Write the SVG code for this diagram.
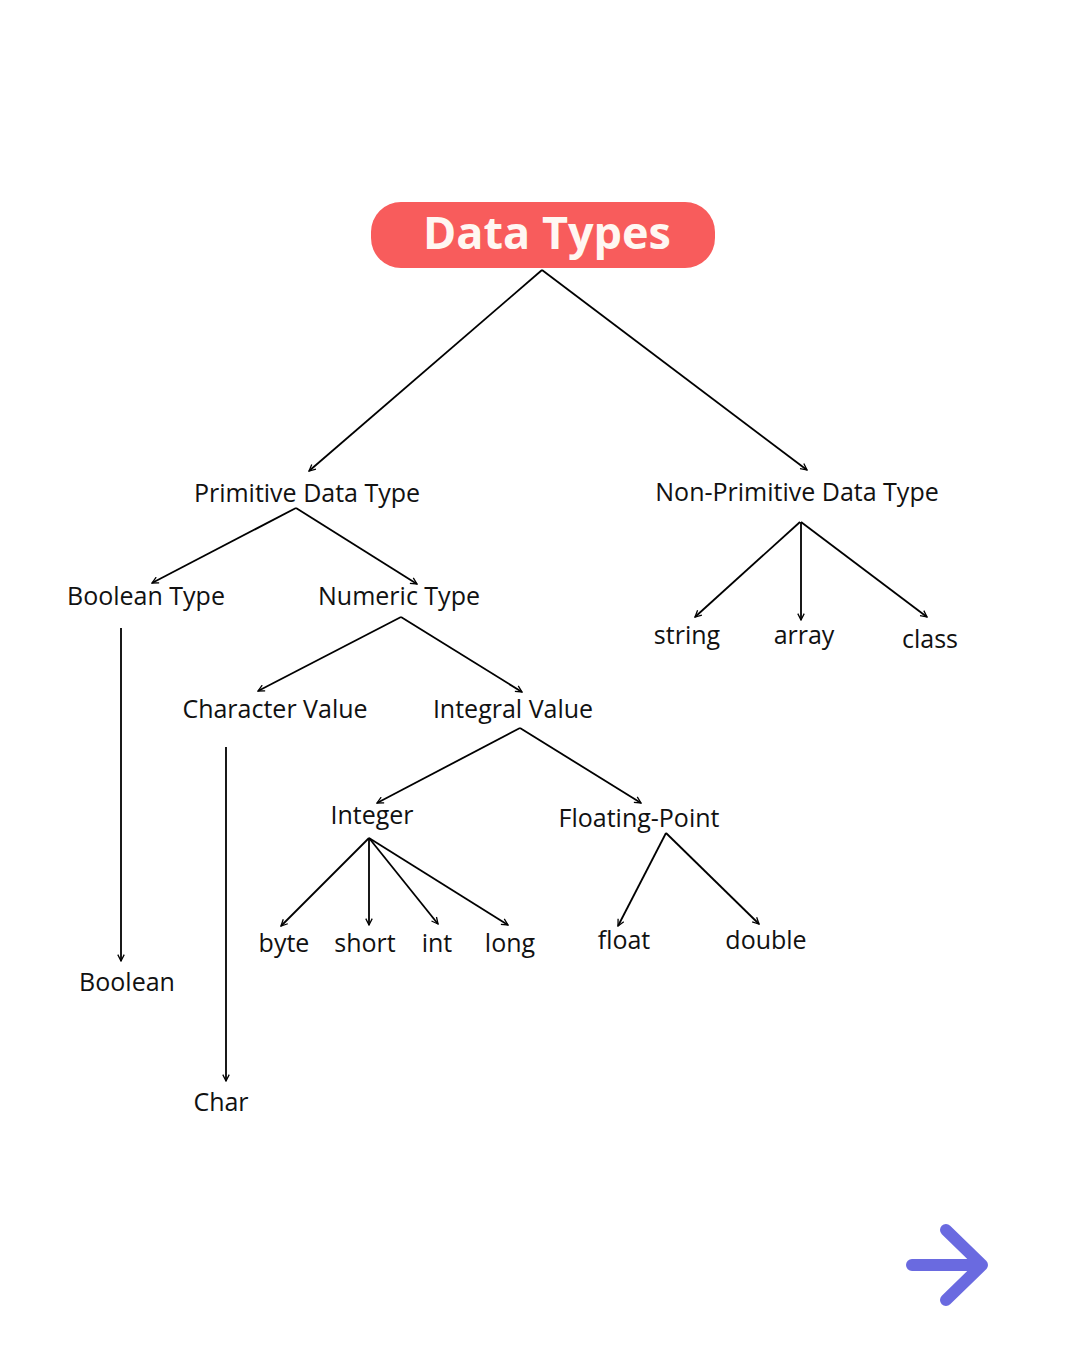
<svg xmlns="http://www.w3.org/2000/svg" width="1079" height="1346" viewBox="0 0 1079 1346">
<defs>
<marker id="ah" viewBox="0 0 10 10" refX="9" refY="5" markerWidth="8" markerHeight="8" markerUnits="userSpaceOnUse" orient="auto">
<path d="M1,1 L9,5 L1,9" fill="none" stroke="#000" stroke-width="1.6"/>
</marker>
</defs>
<style>
.lbl{font-family:"Open Sans","Noto Sans",sans-serif;font-size:25px;fill:#111;text-anchor:middle}
.con line{stroke:#000;stroke-width:1.8;marker-end:url(#ah)}
</style>
<rect width="1079" height="1346" fill="#fff"/>
<g id="title">
<rect x="371" y="202" width="344" height="66" rx="30" fill="#f85c5c"/>
<text x="547" y="249" font-family="'Open Sans','Noto Sans',sans-serif" font-weight="bold" font-size="45" fill="#fff7f2" text-anchor="middle">Data Types</text>
</g>
<g class="con" id="connectors">
<line x1="542" y1="270" x2="309" y2="471"/>
<line x1="542" y1="270" x2="807" y2="470"/>
<line x1="296" y1="508" x2="152" y2="583"/>
<line x1="296" y1="508" x2="417" y2="584"/>
<line x1="800" y1="522" x2="695" y2="617"/>
<line x1="801" y1="522" x2="801" y2="620"/>
<line x1="801" y1="522" x2="927" y2="617"/>
<line x1="121" y1="628" x2="121" y2="961"/>
<line x1="401" y1="617" x2="258" y2="691"/>
<line x1="401" y1="617" x2="522" y2="692"/>
<line x1="226" y1="747" x2="226" y2="1081"/>
<line x1="520" y1="728" x2="377" y2="803"/>
<line x1="520" y1="728" x2="641" y2="803"/>
<line x1="369" y1="838" x2="281" y2="926"/>
<line x1="369" y1="838" x2="369" y2="925"/>
<line x1="369" y1="838" x2="438" y2="924"/>
<line x1="369" y1="838" x2="508" y2="925"/>
<line x1="666" y1="833" x2="618" y2="926"/>
<line x1="666" y1="833" x2="759" y2="924"/>
</g>
<g id="primitive"><text class="lbl" x="307" y="502">Primitive Data Type</text></g>
<g id="nonprimitive"><text class="lbl" x="797" y="501">Non-Primitive Data Type</text></g>
<g id="booleantype"><text class="lbl" x="146" y="605">Boolean Type</text></g>
<g id="numerictype"><text class="lbl" x="399" y="605">Numeric Type</text></g>
<g id="string"><text class="lbl" x="687" y="644">string</text></g>
<g id="array"><text class="lbl" x="804" y="644">array</text></g>
<g id="class"><text class="lbl" x="930" y="648">class</text></g>
<g id="charactervalue"><text class="lbl" x="275" y="718">Character Value</text></g>
<g id="integralvalue"><text class="lbl" x="513" y="718">Integral Value</text></g>
<g id="integer"><text class="lbl" x="372" y="824">Integer</text></g>
<g id="floatingpoint"><text class="lbl" x="639" y="827">Floating-Point</text></g>
<g id="byte"><text class="lbl" x="284" y="952">byte</text></g>
<g id="short"><text class="lbl" x="365" y="952">short</text></g>
<g id="int"><text class="lbl" x="437" y="952">int</text></g>
<g id="long"><text class="lbl" x="510" y="952">long</text></g>
<g id="float"><text class="lbl" x="624" y="949">float</text></g>
<g id="double"><text class="lbl" x="766" y="949">double</text></g>
<g id="boolean"><text class="lbl" x="127" y="991">Boolean</text></g>
<g id="char"><text class="lbl" x="221" y="1111">Char</text></g>
<g id="nextarrow">
<path d="M912,1265 L982,1265 M946,1230 L982,1265 L946,1300" fill="none" stroke="#6a6ae0" stroke-width="12" stroke-linecap="round" stroke-linejoin="round"/>
</g>
</svg>
